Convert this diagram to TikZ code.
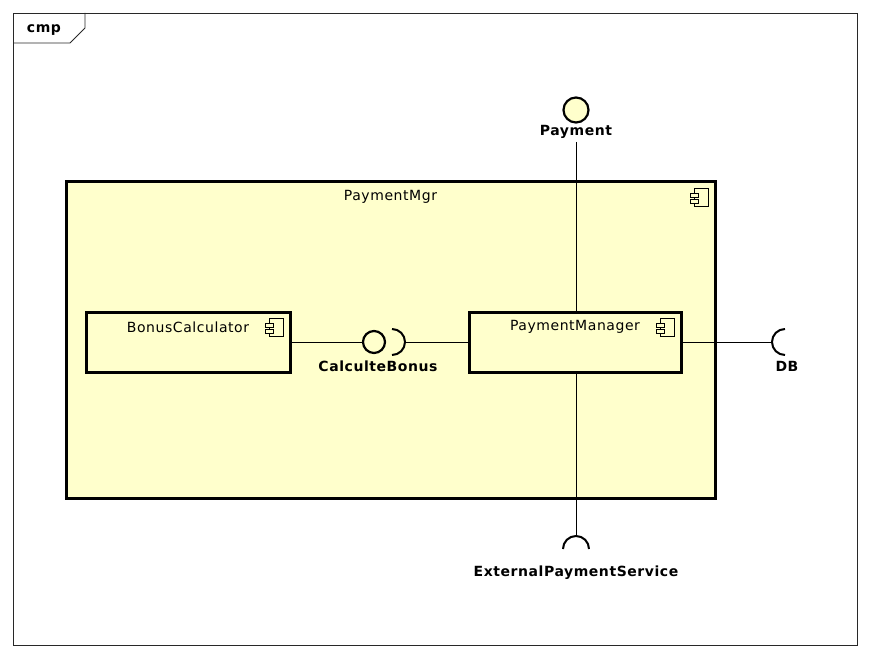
\documentclass[tikz,border=0pt]{standalone}
\usepackage{fontspec}
\setmainfont{DejaVu Sans}[LetterSpace=4]
\usetikzlibrary{calc}
\definecolor{umlfill}{RGB}{255,255,204}
\definecolor{frameline}{RGB}{40,40,40}

\begin{document}
\begin{tikzpicture}[x=1pt,y=-1pt,
      comp/.style={draw,line width=3pt,fill=umlfill,inner sep=0pt},
      ball/.style={circle,draw,line width=2.2pt,fill=umlfill,
        inner sep=0pt,minimum size=22pt},
      socket/.style={line width=2pt},
      wire/.style={line width=0.9pt},
      lbl/.style={font=\fontsize{14}{16}\selectfont\bfseries,inner sep=0pt},
      ttl/.style={font=\fontsize{14}{16}\selectfont,inner sep=0pt},
      compicon/.pic={
        \draw[line width=0.8pt,fill=umlfill] (-7,-9) rectangle (7,9);
        \draw[line width=0.8pt,fill=umlfill] (-11,-4) rectangle (-3,0);
        \draw[line width=0.8pt,fill=umlfill] (-11,2) rectangle (-3,6);
      }
    ]
      \useasboundingbox (0,0) rectangle (870,658);
      \fill[white] (0,0) rectangle (870,658);

      \draw[frameline,line width=0.8pt] (13,13) rectangle (857,645);
      \draw[frameline,line width=0.8pt] (13,43) -- (70,43) -- (85,28) -- (85,13);
      \node[lbl] (frametag) at (44,30) {cmp};

      \node[comp,minimum width=649pt,minimum height=317pt] (mgr) at (390.5,339.5) {};
      \node[ttl] (mgrname) at (390.5,197) {PaymentMgr};
      \pic at ($(mgr.north east)+(-15,17.5)$) {compicon};

      \node[comp,minimum width=204pt,minimum height=60pt] (bonus) at (188,342) {};
      \node[ttl] (bonusname) at (188,327) {BonusCalculator};
      \pic at ($(bonus.north east)+(-15.5,17)$) {compicon};

      \node[comp,minimum width=212pt,minimum height=60pt] (pman) at (575,342) {};
      \node[ttl] (pmanname) at (575,327) {PaymentManager};
      \pic at ($(pman.north east)+(-15.5,17)$) {compicon};

      \node[ball] (cbball) at (374,342) {};
      \node[lbl] (cblbl) at (378,366) {CalculteBonus};
      \coordinate (cbsock) at (405,342);
      \draw[wire] (bonus.east) -- (cbball.west);
      \draw[socket] ($(cbsock)+(-13,13)$) arc[start angle=90,end angle=-90,radius=13];
      \draw[wire] (cbsock) -- (pman.west);

      \node[ball,minimum size=25pt] (payball) at (576,110) {};
      \node[lbl] (paylbl) at (576,132) {Payment};
      \draw[wire] ($(paylbl.south)+(0,3)$) -- (paylbl.south |- pman.north);

      \coordinate (dbsock) at (772,342);
      \draw[wire] (pman.east) -- (dbsock);
      \draw[socket] ($(dbsock)+(13,13)$) arc[start angle=90,end angle=270,radius=13];
      \node[lbl] (dblbl) at (787,366) {DB};

      \coordinate (extsock) at (576,536);
      \draw[wire] (extsock |- pman.south) -- (extsock);
      \draw[socket] ($(extsock)+(13,13)$) arc[start angle=0,end angle=-180,radius=13];
      \node[lbl] (extlbl) at (576,573) {ExternalPaymentService};
    \end{tikzpicture}
\end{document}
